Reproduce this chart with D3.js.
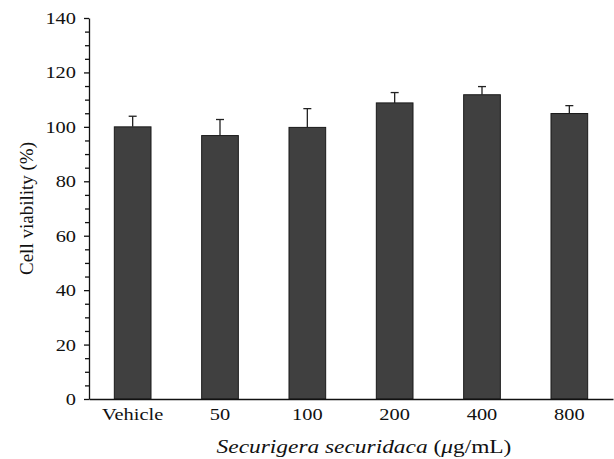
<!DOCTYPE html>
<html>
<head>
<meta charset="utf-8">
<script src="https://cdn.jsdelivr.net/npm/d3@7"></script>
<style>
  body { margin: 0; background: #fff; }
  svg text { font-family: "Liberation Serif", "DejaVu Serif", serif; fill: #111; }
</style>
</head>
<body>
<div class="container"></div>
<script>
var groups = ["Vehicle", "50", "100", "200", "400", "800"];
var viability = [100, 96.8, 99.8, 108.8, 111.8, 104.9];
var sd = [3.9, 5.9, 6.9, 3.8, 3.0, 2.9];
var yTicks = [0, 20, 40, 60, 80, 100, 120, 140];

var width = 614, height = 459;
var margin = {left: 89, right: 1, top: 18, bottom: 60};
var stretch = 1.2;   // reference font runs wider than Liberation Serif

var svg = d3.select(".container").append("svg")
            .attr("width", width)
            .attr("height", height);

var x = d3.scaleBand()
          .domain(groups)
          .range([margin.left, width - margin.right])
          .paddingInner(0.58)
          .paddingOuter(0.29);

var y = d3.scaleLinear()
          .domain([0, 140])
          .range([height - margin.bottom, margin.top]);

// bars
svg.selectAll("rect.bar")
   .data(groups)
   .enter().append("rect")
   .attr("class", "bar")
   .attr("x", d => x(d))
   .attr("width", x.bandwidth())
   .attr("y", (d, i) => y(viability[i]))
   .attr("height", (d, i) => y(0) - y(viability[i]))
   .attr("fill", "#404040")
   .attr("stroke", "#1a1a1a")
   .attr("stroke-width", 1);

// error bars (upper only)
var err = svg.selectAll("g.err")
             .data(groups)
             .enter().append("g")
             .attr("class", "err")
             .attr("stroke", "#222")
             .attr("stroke-width", 1.3);

err.append("line")
   .attr("x1", d => x(d) + x.bandwidth() / 2)
   .attr("x2", d => x(d) + x.bandwidth() / 2)
   .attr("y1", (d, i) => y(viability[i]))
   .attr("y2", (d, i) => y(viability[i] + sd[i]));

err.append("line")
   .attr("x1", d => x(d) + x.bandwidth() / 2 - 4)
   .attr("x2", d => x(d) + x.bandwidth() / 2 + 4)
   .attr("y1", (d, i) => y(viability[i] + sd[i]))
   .attr("y2", (d, i) => y(viability[i] + sd[i]));

// y axis
var yAxis = svg.append("g")
               .attr("transform", `translate(${margin.left},0)`)
               .call(d3.axisLeft(y).tickValues(yTicks).tickSize(5).tickPadding(8).tickSizeOuter(0));

yAxis.selectAll(".tick text")
     .attr("x", -13 / stretch)
     .attr("transform", `scale(${stretch},1)`);

svg.append("g")
   .attr("transform", `translate(${margin.left},0)`)
   .call(d3.axisLeft(y).tickValues(d3.range(0, 141, 5).filter(v => v % 20 != 0))
           .tickSize(4).tickFormat("").tickSizeOuter(0))
   .select(".domain").remove();

// x axis
var xAxis = svg.append("g")
               .attr("transform", `translate(0,${y(0)})`)
               .call(d3.axisBottom(x).tickSize(0).tickPadding(9).tickSizeOuter(0));

xAxis.selectAll(".tick text")
     .attr("transform", `scale(${stretch},1)`)
     .attr("x", 0);

svg.selectAll(".tick text").style("font-size", "17px");
svg.selectAll(".domain, .tick line").attr("stroke", "#111").attr("stroke-width", 1.3);

// axis labels
svg.append("text")
   .attr("transform", `translate(33,${(y(0) + y(140)) / 2}) rotate(-90)`)
   .attr("text-anchor", "middle")
   .style("font-size", "19px")
   .text("Cell viability (%)");

var xl = svg.append("text")
            .attr("transform", `translate(${(margin.left + width - margin.right) / 2 + 13},453) scale(${stretch},1)`)
            .attr("text-anchor", "middle")
            .style("font-size", "19.5px");
xl.append("tspan").style("font-style", "italic").text("Securigera securidaca");
xl.append("tspan").text(" (");
xl.append("tspan").style("font-style", "italic").text("μ");
xl.append("tspan").text("g/mL)");
</script>
</body>
</html>
